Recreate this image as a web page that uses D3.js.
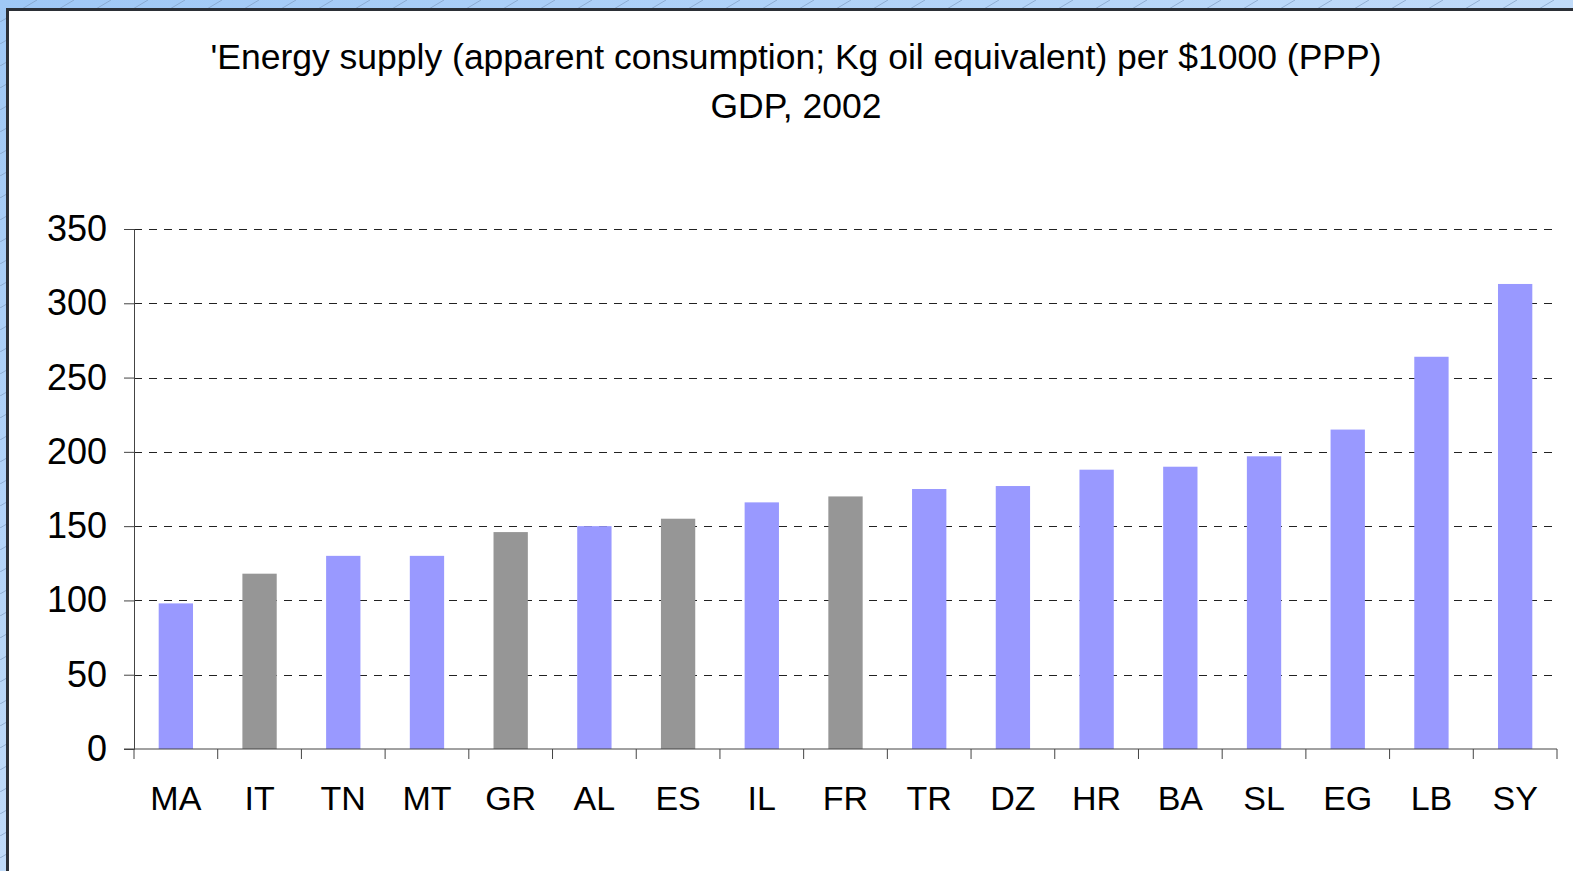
<!DOCTYPE html>
<html>
  <head>
    <script src="https://d3js.org/d3.v7.min.js"></script>
    <style>
      body { margin: 0; overflow: hidden; }
      text { font-family: "Liberation Sans", Arial, sans-serif; }
    </style>
  </head>
  <body>
    <script>

    const countries = ["MA", "IT", "TN", "MT", "GR", "AL", "ES", "IL", "FR", "TR", "DZ", "HR", "BA", "SL", "EG", "LB", "SY"];
    const values = [98, 118, 130, 130, 146, 150, 155, 166, 170, 175, 177, 188, 190, 197, 215, 264, 313];
    const greyBars = ["IT", "GR", "ES", "FR"];
    const yTicks = [0, 50, 100, 150, 200, 250, 300, 350];
    const titleLines = ["'Energy supply (apparent consumption; Kg oil equivalent) per $1000 (PPP)", "GDP, 2002"];

    const width = 1573;
    const height = 871;

    const svg = d3.select("body").append("svg")
        .attr("width", width)
        .attr("height", height);

    const defs = svg.append("defs");
    const grad = defs.append("linearGradient")
        .attr("id", "bg")
        .attr("x1", 0).attr("y1", 0).attr("x2", 1).attr("y2", 1);
    grad.append("stop").attr("offset", 0).attr("stop-color", "#9fc8f6");
    grad.append("stop").attr("offset", 1).attr("stop-color", "#e2eefc");

    const hatch = defs.append("pattern")
        .attr("id", "hatch")
        .attr("patternUnits", "userSpaceOnUse")
        .attr("width", 37).attr("height", 22);
    hatch.append("line")
        .attr("x1", 0).attr("y1", 22).attr("x2", 37).attr("y2", 0)
        .attr("stroke", "#7f9cc2").attr("stroke-width", 0.7);

    svg.append("rect").attr("width", width).attr("height", height).attr("fill", "url(#bg)");
    svg.append("rect").attr("width", width).attr("height", height).attr("fill", "url(#hatch)");

    // white chart panel
    svg.append("rect")
        .attr("x", 7.5).attr("y", 9.5)
        .attr("width", width + 20).attr("height", height + 20)
        .attr("fill", "#fff")
        .attr("stroke", "#2b2f36")
        .attr("stroke-width", 3);

    const margin = { left: 134, right: 16, top: 229, bottom: 122 };

    const x = d3.scaleBand()
        .domain(countries)
        .range([margin.left, width - margin.right])
        .paddingInner(0.59)
        .paddingOuter(0.295);

    const y = d3.scaleLinear()
        .domain([0, 350])
        .range([height - margin.bottom, margin.top]);

    // title
    svg.append("text")
        .attr("x", 796)
        .attr("y", 69)
        .attr("text-anchor", "middle")
        .style("font-size", "35.5px")
        .selectAll("tspan")
        .data(titleLines)
        .enter().append("tspan")
          .attr("x", 796)
          .attr("dy", (d, i) => i ? 49 : 0)
          .text(d => d);

    // dashed grid
    svg.append("g")
      .selectAll("line")
      .data(yTicks.slice(1))
      .enter().append("line")
        .attr("x1", margin.left)
        .attr("x2", width - margin.right)
        .attr("y1", d => Math.round(y(d)) + 0.5)
        .attr("y2", d => Math.round(y(d)) + 0.5)
        .attr("stroke", "#222")
        .attr("stroke-dasharray", "8,7");

    // bars
    svg.append("g")
      .selectAll("rect")
      .data(countries)
      .enter().append("rect")
        .attr("x", d => x(d))
        .attr("width", x.bandwidth())
        .attr("y", (d, i) => y(values[i]))
        .attr("height", (d, i) => y(0) - y(values[i]))
        .attr("fill", d => greyBars.includes(d) ? "#969696" : "#9999ff");

    // y axis
    const yAxis = svg.append("g")
        .attr("transform", `translate(${margin.left},0)`)
        .call(d3.axisLeft(y).tickValues(yTicks).tickSize(10).tickPadding(17));
    yAxis.select(".domain").attr("stroke", "#444");
    yAxis.selectAll(".tick line").attr("stroke", "#444");
    yAxis.selectAll(".tick text")
        .style("font-size", "36px")
        .attr("fill", "#000")
        .attr("font-family", null);

    // x axis with ticks between categories
    const xAxis = svg.append("g")
        .attr("transform", `translate(0,${y(0)})`);
    xAxis.append("line")
        .attr("x1", margin.left - 10)
        .attr("x2", width - margin.right)
        .attr("stroke", "#444");
    const step = x.step();
    xAxis.selectAll(".sep")
      .data(d3.range(countries.length + 1))
      .enter().append("line")
        .attr("class", "sep")
        .attr("x1", i => margin.left + i * step)
        .attr("x2", i => margin.left + i * step)
        .attr("y1", 0).attr("y2", 10)
        .attr("stroke", "#444");
    xAxis.selectAll("text")
      .data(countries)
      .enter().append("text")
        .attr("x", d => x(d) + x.bandwidth() / 2)
        .attr("y", 61)
        .attr("text-anchor", "middle")
        .style("font-size", "34px")
        .text(d => d);

    </script>
  </body>
</html>
